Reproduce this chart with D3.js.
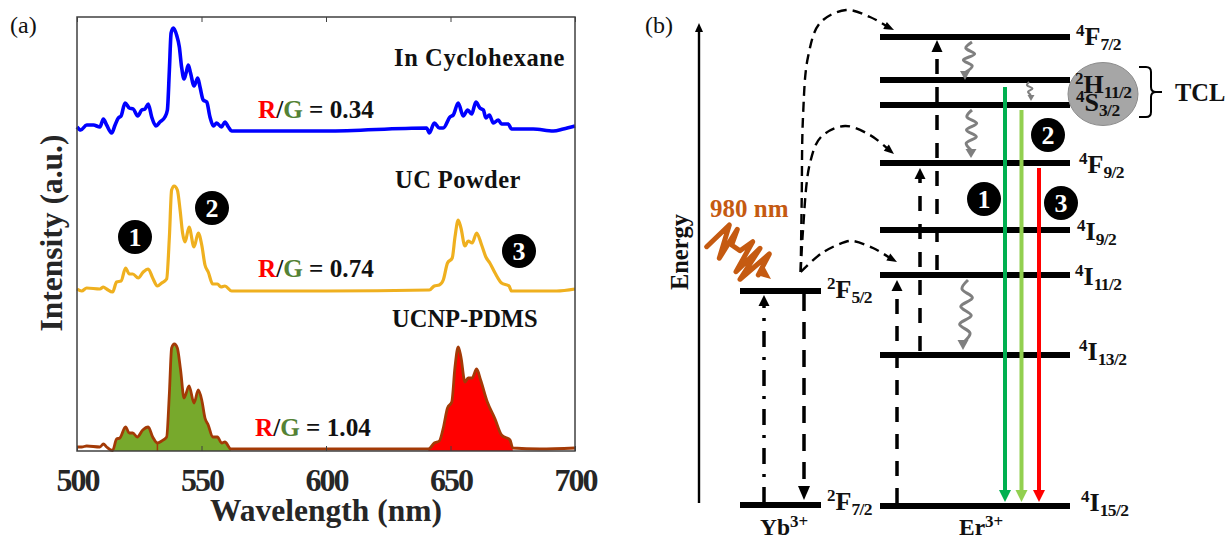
<!DOCTYPE html>
<html>
<head>
<meta charset="utf-8">
<script src="https://cdn.jsdelivr.net/npm/d3@7/dist/d3.min.js"></script>
<style>
  html, body { margin: 0; padding: 0; background: #fff; }
  svg { display: block; }
  text { font-family: "Liberation Serif", serif; }
</style>
</head>
<body>
<div id="chart"></div>
<script>
// Wavelength (nm) / intensity (a.u., stacked offset)
const blueWl = [500,501.5,503.9,506.6,509.2,510.6,511.9,513.9,515.3,516.6,517.7,519.3,521,522.6,524.4,526,527.3,528.6,530,531.7,533.3,535.3,536.3,537.1,537.8,538.7,540,541.1,542,543,543.8,544.7,545.6,547,548.5,549.4,550.7,552.1,553.4,554.8,556.1,558,559.4,560.8,562.1,600,640.4,641.5,643.5,645.5,647.1,649.8,651.1,653.1,655.1,656.9,658.5,660.2,661.8,663.2,664.2,665.6,667.2,669.2,670.5,673.2,674.5,683.2,691.3,695.3,700];
const blueI = [324,321,326,326,324,332,326,318,326,333,335,348,343,342,335,341,342,347,334,325,329,334,341,381,418,423,416,404,384,372,378,386,378,365,373,364,351,349,334,325,328,324,329,324,320,320,323,318,328,323,323,334,336,348,335,341,337,349,343,341,333,336,328,331,327,327,322,322,320,322,325];

const yellowWl = [500,501.9,503.9,509.2,510.6,511.9,514.3,515.9,517.7,519.5,521,522.4,524.6,526.6,528.6,530.4,532.3,534,536,537.1,538,539,540.3,541.4,542.4,543.4,545,547,548.7,550.1,551.4,552.7,554.5,556.4,557.8,559.4,562.1,600,641.5,643.5,645.5,647.1,648.8,650.7,651.8,653.1,654.2,655.8,657.1,658.7,660.5,662.5,664.2,665.8,667.9,670.5,673.5,674.5,685.9,692.6,700];
const yellowI = [162,160,163,162,164,162,159,169,170,183,177,177,173,179,182,173,165,168,172,214,261,265,261,241,218,209,224,204,218,206,186,179,167,167,164,165,160,160,161,165,166,171,188,193,214,231,223,205,210,208,218,206,194,188,178,168,165,160,160,160,162];

const brownWl = [500,501.9,503.9,509.2,510.6,511.9,514.3,515.9,517.2,519.5,521,522.4,524.2,526.4,528.6,530.4,532.3,534,536,537.1,538,539.1,540.3,541.6,543,545,547,548.7,550.1,551.4,552.7,554.5,556.4,558.1,559.4,561.8,600,641.1,643.5,645.5,647.1,648.8,650.5,651.8,653.1,654.2,655.8,657.1,658.7,660.5,662.1,664.8,667.9,670.5,673.9,675,685.9,700];
const brownI = [4,4,5,4,7,4,0.5,12,13,24,18,18,14,21,24,14,8,10,14,58,103,107,103,81,53,65,48,61,51,33,26,14,14,8,9,2,2,2,8,10,23,43,49,84,104,94,69,73,73,82,71,49,32,16,11,3,2,3];

const xTicks = [500, 550, 600, 650, 700];
const peakBands = [[514.3, 532.3], [532.3, 561.8], [641.1, 675]];
const bandFills = ["#77a92c", "#77a92c", "#ff0000"];

const curveNames = ["In Cyclohexane", "UC Powder", "UCNP-PDMS"];
const ratios = ["0.34", "0.74", "1.04"];

// Energy levels, a.u. above the ground state
const erNames = [["4","I","15/2"],["4","I","13/2"],["4","I","11/2"],["4","I","9/2"],["4","F","9/2"],["4","S","3/2"],["2","H","11/2"],["4","F","7/2"]];
const erEnergy = [0, 151, 231, 276, 343, 401, 426, 469];
const ybNames = [["2","F","7/2"],["2","F","5/2"]];
const ybEnergy = [1, 215];

// layout
const svgWidth = 1227, svgHeight = 540;
const plot = {left: 77, right: 575, top: 17, bottom: 451};
const ink = "#262626";

const svg = d3.select("#chart").append("svg")
    .attr("width", svgWidth).attr("height", svgHeight)
    .attr("viewBox", `0 0 ${svgWidth} ${svgHeight}`);

const x = d3.scaleLinear().domain([500, 700]).range([plot.left, plot.right]);
const y = d3.scaleLinear().domain([0, 434]).range([plot.bottom, plot.top]);
const eY = d3.scaleLinear().domain([0, 469]).range([506, 37]);

// ---------- panel (a) ----------
const specLine = d3.line().x(d => x(d[0])).y(d => y(d[1])).curve(d3.curveMonotoneX);
const brown = d3.zip(brownWl, brownI);

// shaded peaks of the bottom spectrum
const bandArea = d3.area().x(d => x(d[0])).y0(y(0)).y1(d => y(d[1])).curve(d3.curveMonotoneX);
peakBands.forEach((b, i) => {
    svg.append("path")
       .attr("d", bandArea(brown.filter(d => d[0] >= b[0] && d[0] <= b[1])))
       .attr("fill", bandFills[i]);
});
svg.append("line")
   .attr("x1", x(532.3)).attr("x2", x(532.3)).attr("y1", y(8)).attr("y2", y(0))
   .attr("stroke", "#a33a06").attr("stroke-width", 1.5);

svg.append("path").attr("d", specLine(d3.zip(blueWl, blueI)))
   .attr("fill", "none").attr("stroke", "#0000ff").attr("stroke-width", 3.6).attr("stroke-linejoin", "round");
svg.append("path").attr("d", specLine(d3.zip(yellowWl, yellowI)))
   .attr("fill", "none").attr("stroke", "#efb01f").attr("stroke-width", 3.2).attr("stroke-linejoin", "round");
svg.append("path").attr("d", specLine(brown))
   .attr("fill", "none").attr("stroke", "#a33a06").attr("stroke-width", 2.8).attr("stroke-linejoin", "round");

// axes box
svg.append("rect")
   .attr("x", plot.left).attr("y", plot.top)
   .attr("width", plot.right - plot.left).attr("height", plot.bottom - plot.top)
   .attr("fill", "none").attr("stroke", "#404040").attr("stroke-width", 1.5);

const xAxis = svg.append("g")
    .attr("transform", `translate(0, ${plot.bottom})`)
    .call(d3.axisBottom(x).tickValues(xTicks).tickSizeInner(-5).tickSizeOuter(0).tickPadding(17));
xAxis.select(".domain").remove();
xAxis.selectAll("line").attr("stroke", "#404040");
xAxis.selectAll("text")
     .attr("fill", ink).attr("font-weight", "bold")
     .style("font-size", "32px").style("letter-spacing", "-2px");

const xAxisTop = svg.append("g")
    .attr("transform", `translate(0, ${plot.top})`)
    .call(d3.axisTop(x).tickValues(xTicks).tickSizeInner(-5).tickSizeOuter(0).tickFormat(""));
xAxisTop.select(".domain").remove();
xAxisTop.selectAll("line").attr("stroke", "#404040");

svg.append("text").text("Wavelength (nm)")
   .attr("x", 326).attr("y", 521).attr("text-anchor", "middle")
   .attr("fill", ink).attr("font-weight", "bold").attr("font-size", 31.5);
svg.append("text").text("Intensity (a.u.)")
   .attr("transform", "translate(62, 233) rotate(-90)").attr("text-anchor", "middle")
   .attr("fill", ink).attr("font-weight", "bold").attr("font-size", 31.5);

svg.selectAll("text.cname").data(curveNames).enter().append("text")
   .attr("class", "cname").text(d => d)
   .attr("x", (d, i) => [394, 395, 392][i])
   .attr("y", (d, i) => [66, 188, 327][i])
   .attr("font-weight", "bold").attr("font-size", 24.5).attr("fill", "#111")
   .style("letter-spacing", (d, i) => [0.6, 0.45, 0][i] + "px");

ratios.forEach((r, i) => {
    const t = svg.append("text")
        .attr("x", [258, 258, 255][i]).attr("y", [118, 277, 436][i])
        .attr("font-weight", "bold").attr("font-size", 25.2).attr("fill", "#111");
    t.append("tspan").text("R").attr("fill", "#ff0000");
    t.append("tspan").text("/");
    t.append("tspan").text("G").attr("fill", "#548235");
    t.append("tspan").text(" = " + r);
});

svg.append("text").text("(a)").attr("x", 10).attr("y", 33).attr("font-size", 24).attr("fill", "#111");
svg.append("text").text("(b)").attr("x", 645).attr("y", 33).attr("font-size", 24).attr("fill", "#111");

// ---------- panel (b) ----------
function triangle(px, py, dx, dy, len, w, color) {
    // tip at (px, py), pointing along (dx, dy)
    const n = Math.hypot(dx, dy), ux = dx / n, uy = dy / n;
    const bx = px - ux * len, by = py - uy * len;
    svg.append("path")
       .attr("d", `M${px},${py}L${bx - uy * w / 2},${by + ux * w / 2}L${bx + uy * w / 2},${by - ux * w / 2}Z`)
       .attr("fill", color);
}

function vArrow(px, from, to, color, width, dash, headLen, headW) {
    const dir = to > from ? 1 : -1;
    svg.append("line")
       .attr("x1", px).attr("x2", px).attr("y1", from).attr("y2", to - dir * headLen)
       .attr("stroke", color).attr("stroke-width", width)
       .attr("stroke-dasharray", dash);
    triangle(px, to, 0, dir, headLen, headW, color);
}

// energy axis
svg.append("line").attr("x1", 699).attr("x2", 699).attr("y1", 503).attr("y2", 30)
   .attr("stroke", "#000").attr("stroke-width", 2.4);
triangle(699, 23, 0, -1, 9, 8, "#000");
svg.append("text").text("Energy")
   .attr("transform", "translate(688, 252) rotate(-90)").attr("text-anchor", "middle")
   .attr("font-weight", "bold").attr("font-size", 24.5).attr("fill", "#111");

// level bars
svg.selectAll("line.er").data(erEnergy).enter().append("line")
   .attr("class", "er").attr("x1", 880).attr("x2", 1070)
   .attr("y1", d => eY(d)).attr("y2", d => eY(d))
   .attr("stroke", "#000").attr("stroke-width", 6);
svg.selectAll("line.yb").data(ybEnergy).enter().append("line")
   .attr("class", "yb").attr("x1", 740).attr("x2", 821)
   .attr("y1", d => eY(d)).attr("y2", d => eY(d))
   .attr("stroke", "#000").attr("stroke-width", 6);

// thermally coupled levels marker
svg.append("ellipse").attr("cx", 1103).attr("cy", 94).attr("rx", 35).attr("ry", 31.5)
   .attr("fill", "#a6a6a6").attr("stroke", "#8c8c8c").attr("stroke-width", 1);
svg.append("path")
   .attr("d", "M1139,67H1146Q1151,67 1151,72V87Q1151,92 1156,92H1162M1156,92Q1151,92 1151,97V112Q1151,117 1146,117H1139")
   .attr("fill", "none").attr("stroke", "#000").attr("stroke-width", 2);
svg.append("text").text("TCL").attr("x", 1175).attr("y", 101)
   .attr("font-weight", "bold").attr("font-size", 24.5).attr("fill", "#111");

// level labels
function levelLabel(parts, px, py) {
    const t = svg.append("text").attr("x", px).attr("y", py)
        .attr("font-weight", "bold").attr("font-size", 26).attr("fill", "#111");
    t.append("tspan").text(parts[0]).attr("font-size", 17).attr("dy", -9);
    t.append("tspan").text(parts[1]).attr("dy", 9);
    t.append("tspan").text(parts[2]).attr("font-size", 17.5).attr("dy", 5).style("letter-spacing", "-0.6px");
}
const erLabelX = [1081, 1079, 1075, 1077, 1079, 1076, 1075, 1076];
const erLabelY = [511, 360, 285, 240, 173, 111, 93, 45];
erNames.forEach((n, i) => levelLabel(n, erLabelX[i], erLabelY[i]));
const ybLabelY = [510, 298];
ybNames.forEach((n, i) => levelLabel(n, 827, ybLabelY[i]));

[["Yb", 760], ["Er", 959]].forEach(d => {
    const t = svg.append("text").attr("x", d[1]).attr("y", 535)
        .attr("font-weight", "bold").attr("font-size", 23.5).attr("fill", "#111");
    t.append("tspan").text(d[0]);
    t.append("tspan").text("3+").attr("font-size", 17).attr("dy", -8);
});

// pump / transfer arrows
vArrow(764, 503, 295, "#000", 3.5, "16 10 3 10", 11, 11);
vArrow(804, 294, 500, "#000", 3.5, "17 11", 14, 12);
vArrow(897, 503, 280, "#000", 3.5, "15 12", 11, 11);
vArrow(920, 351, 168, "#000", 3.5, "15 13", 11, 11);
vArrow(937, 270, 40, "#000", 3.5, "15 13", 12, 11);

// radiative transitions
vArrow(1005, 87, 502, "#00b050", 4, null, 12, 12);
vArrow(1021.5, 110, 502, "#92d050", 4, null, 12, 12);
vArrow(1039, 168, 502, "#ff0000", 4, null, 12, 12);

// energy transfer curves
const transferLine = d3.line().curve(d3.curveCatmullRom.alpha(0.5));
const transferPaths = [
    [[800.7,272],[801.7,200],[803,117],[808,57],[820,23],[846,10],[870,17],[888,27]],
    [[800.7,272],[803,230],[810,163],[821,137],[845,126],[870,135],[888,149]],
    [[800.7,272],[822,253],[845,242],[853,241],[873,248],[890,258]]
];
const transferTips = [[[894,30],[6,3]], [[894,154],[6,5]], [[897,262],[7,4]]];
transferPaths.forEach((p, i) => {
    svg.append("path").attr("d", transferLine(p))
       .attr("fill", "none").attr("stroke", "#000").attr("stroke-width", 2.4)
       .attr("stroke-dasharray", "10 6");
    triangle(transferTips[i][0][0], transferTips[i][0][1], transferTips[i][1][0], transferTips[i][1][1], 10, 8, "#000");
});

// non radiative relaxation wiggles
function wiggle(x0, y0, x1, y1, halfWaves, amp, width) {
    const pts = [[x0, y0]];
    for (let k = 1; k < halfWaves; k++) {
        const f = k / halfWaves;
        pts.push([x0 + (x1 - x0) * f + (k % 2 ? -amp : amp), y0 + (y1 - y0) * f]);
    }
    pts.push([x1, y1]);
    svg.append("path").attr("d", d3.line().curve(d3.curveCatmullRom)(pts))
       .attr("fill", "none").attr("stroke", "#7f7f7f").attr("stroke-width", width);
}
wiggle(972, 42, 966, 72, 5, 5, 3);
triangle(965, 80, 0, 1, 9, 10, "#7f7f7f");
wiggle(972, 110, 971, 150, 6, 5, 3);
triangle(971, 158, 0, 1, 9, 11, "#7f7f7f");
wiggle(968, 280, 964, 342, 7, 5.5, 3);
triangle(963, 350, 0, 1, 10, 11, "#7f7f7f");
wiggle(1029, 82, 1031, 95, 4, 2.5, 2);
triangle(1031, 101, 0, 1, 6, 7, "#7f7f7f");

// 980 nm excitation
svg.append("text").text("980 nm").attr("x", 710).attr("y", 217)
   .attr("font-weight", "bold").attr("font-size", 25).attr("fill", "#c55a11");
svg.append("path")
   .attr("d", d3.line()([[706.7,246.7],[729.3,225],[719.3,258.3],[737.3,229.3],[731.7,245],[740,250.7],[752.7,241.7],[736,271.7],[760,248.3],[740,279.3],[769.3,254],[758.3,275]]))
   .attr("fill", "none").attr("stroke", "#c55a11").attr("stroke-width", 5)
   .attr("stroke-linejoin", "round").attr("stroke-linecap", "round");
triangle(771, 279, 5, 4, 13, 11, "#c55a11");

// numbered peaks
const badgeX = [135, 212, 519, 984, 1048, 1061];
const badgeY = [237, 208, 251, 199, 135, 203];
const badgeText = ["1", "2", "3", "1", "2", "3"];
badgeText.forEach((b, i) => {
    svg.append("circle").attr("cx", badgeX[i]).attr("cy", badgeY[i]).attr("r", 17).attr("fill", "#000");
    svg.append("text").text(b).attr("x", badgeX[i]).attr("y", badgeY[i] + 9)
       .attr("text-anchor", "middle").attr("font-weight", "bold").attr("font-size", 26).attr("fill", "#fff");
});
</script>
</body>
</html>
